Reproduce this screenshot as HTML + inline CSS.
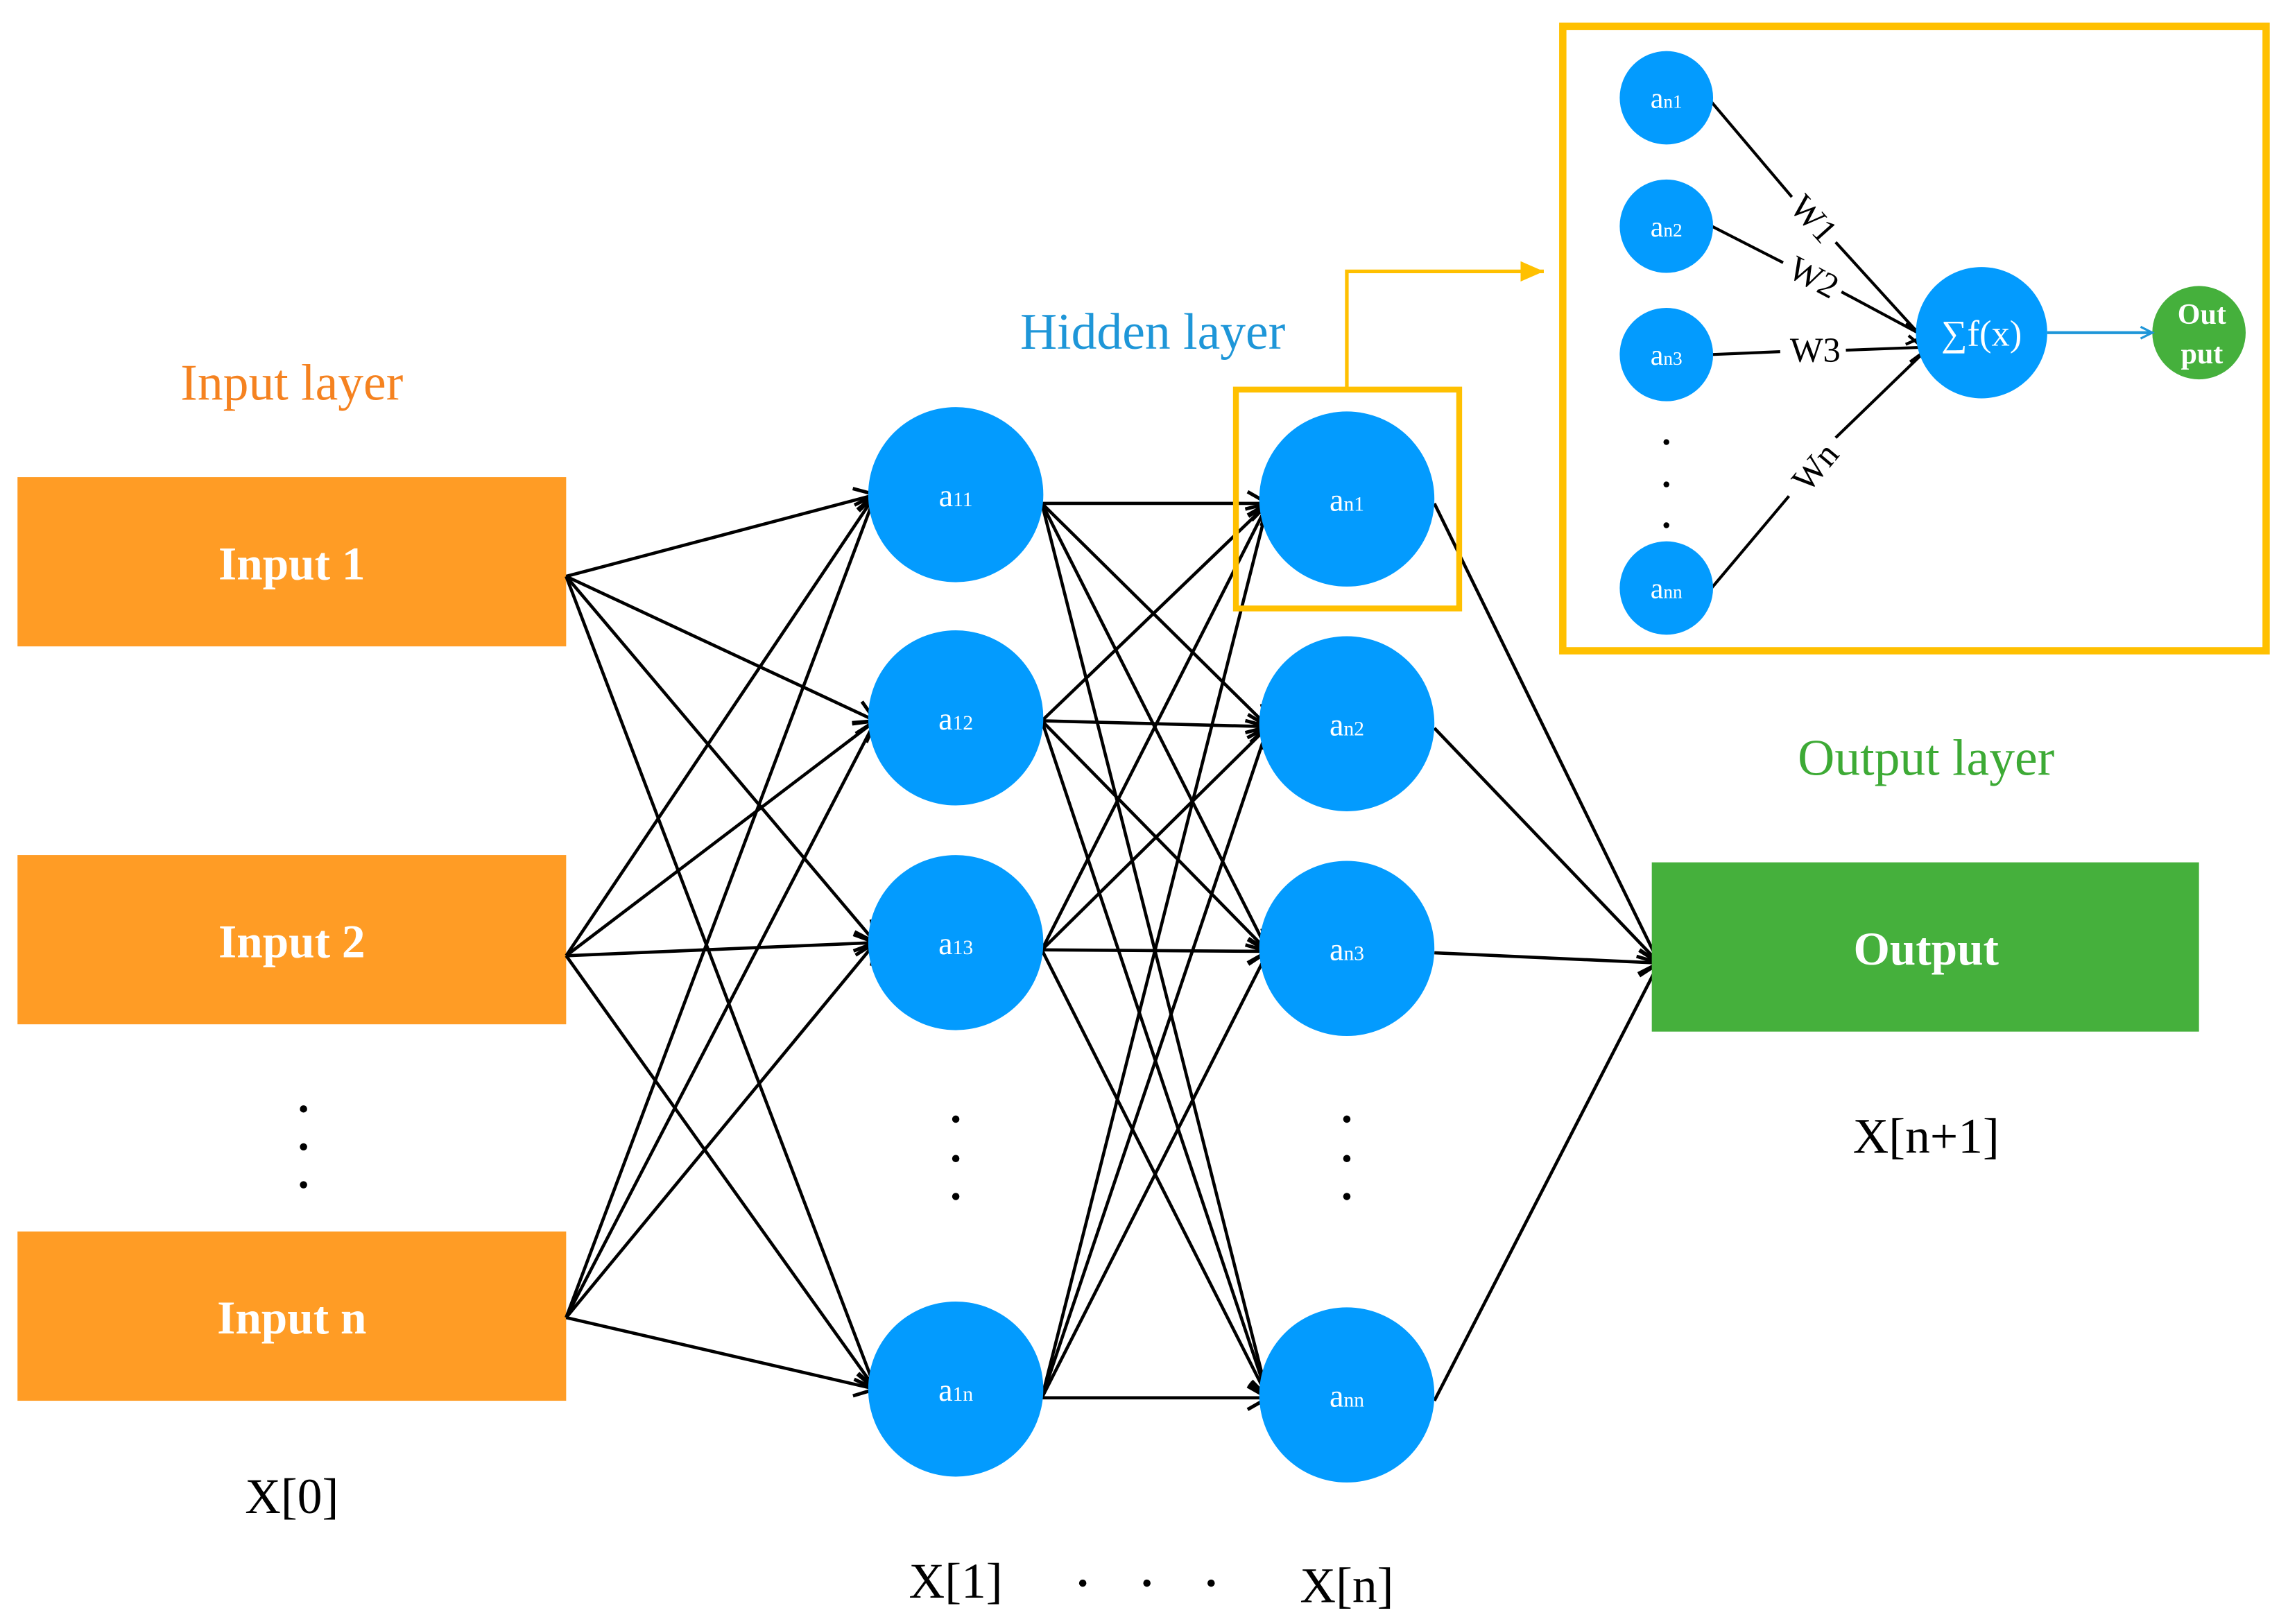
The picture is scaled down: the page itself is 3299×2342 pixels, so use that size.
<!DOCTYPE html>
<html><head><meta charset="utf-8"><style>
html,body{margin:0;padding:0;background:#fff;}
svg{display:block;}
text{font-family:"Liberation Serif",serif;}
</style></head><body>
<svg width="3299" height="2342" viewBox="0 0 1568 1113" preserveAspectRatio="none" xmlns="http://www.w3.org/2000/svg">
<defs>
<marker id="ar" markerUnits="userSpaceOnUse" markerWidth="20" markerHeight="20" refX="15" refY="9" orient="auto">
<path d="M1,1 L15,9 L1,17" fill="none" stroke="#000" stroke-width="2.4"/>
</marker>
<marker id="ab" markerUnits="userSpaceOnUse" markerWidth="12" markerHeight="12" refX="9" refY="5" orient="auto">
<path d="M1,1 L9,5 L1,9" fill="none" stroke="#1E96D8" stroke-width="1.5"/>
</marker>
<marker id="ay" markerUnits="userSpaceOnUse" markerWidth="20" markerHeight="20" refX="16" refY="7" orient="auto">
<path d="M0,0 L16,7 L0,14 Z" fill="#FFC000"/>
</marker>
</defs>

<rect x="12" y="327" width="376" height="116" fill="#FF9C25"/>
<rect x="12" y="586" width="376" height="116" fill="#FF9C25"/>
<rect x="12" y="844" width="376" height="116" fill="#FF9C25"/>
<g fill="#fff" font-weight="bold" font-size="32" text-anchor="middle">
<text x="200" y="397">Input 1</text>
<text x="200" y="656">Input 2</text>
<text x="200" y="914">Input n</text>
</g>
<text x="200" y="274" fill="#F58220" font-size="35" text-anchor="middle">Input layer</text>
<text x="790" y="239" fill="#1E96D8" font-size="35" text-anchor="middle">Hidden layer</text>
<text x="1320" y="531" fill="#3DAA35" font-size="35" text-anchor="middle">Output layer</text>

<g fill="#000">
<circle cx="208" cy="760" r="2.5"/><circle cx="208" cy="786" r="2.5"/><circle cx="208" cy="812" r="2.5"/>
<circle cx="655" cy="767" r="2.5"/><circle cx="655" cy="794" r="2.5"/><circle cx="655" cy="820" r="2.5"/>
<circle cx="923" cy="767" r="2.5"/><circle cx="923" cy="794" r="2.5"/><circle cx="923" cy="820" r="2.5"/>
<circle cx="742" cy="1085" r="2.5"/><circle cx="786" cy="1085" r="2.5"/><circle cx="830" cy="1085" r="2.5"/>
<circle cx="1142" cy="303" r="2"/><circle cx="1142" cy="332" r="2"/><circle cx="1142" cy="360" r="2"/>
</g>

<g font-size="34" text-anchor="middle" fill="#000">
<text x="200" y="1037">X[0]</text>
<text x="655" y="1095">X[1]</text>
<text x="923" y="1098">X[n]</text>
<text x="1320" y="790">X[n+1]</text>
</g>

<g stroke="#000" stroke-width="2.2" fill="none" marker-end="url(#ar)">
<line x1="388" y1="395" x2="600" y2="339"/>
<line x1="388" y1="395" x2="600" y2="494"/>
<line x1="388" y1="395" x2="600" y2="646"/>
<line x1="388" y1="395" x2="600" y2="952"/>
<line x1="388" y1="655" x2="600" y2="339"/>
<line x1="388" y1="655" x2="600" y2="494"/>
<line x1="388" y1="655" x2="600" y2="646"/>
<line x1="388" y1="655" x2="600" y2="952"/>
<line x1="388" y1="903" x2="600" y2="339"/>
<line x1="388" y1="903" x2="600" y2="494"/>
<line x1="388" y1="903" x2="600" y2="646"/>
<line x1="388" y1="903" x2="600" y2="952"/>

<line x1="714" y1="345" x2="869" y2="345"/>
<line x1="714" y1="345" x2="869" y2="498"/>
<line x1="714" y1="345" x2="869" y2="652"/>
<line x1="714" y1="345" x2="869" y2="958"/>
<line x1="714" y1="494" x2="869" y2="345"/>
<line x1="714" y1="494" x2="869" y2="498"/>
<line x1="714" y1="494" x2="869" y2="652"/>
<line x1="714" y1="494" x2="869" y2="958"/>
<line x1="714" y1="651" x2="869" y2="345"/>
<line x1="714" y1="651" x2="869" y2="498"/>
<line x1="714" y1="651" x2="869" y2="652"/>
<line x1="714" y1="651" x2="869" y2="958"/>
<line x1="714" y1="958" x2="869" y2="345"/>
<line x1="714" y1="958" x2="869" y2="498"/>
<line x1="714" y1="958" x2="869" y2="652"/>
<line x1="714" y1="958" x2="869" y2="958"/>

<line x1="983" y1="345" x2="1137" y2="660"/>
<line x1="983" y1="499" x2="1137" y2="660"/>
<line x1="983" y1="653" x2="1137" y2="660"/>
<line x1="983" y1="960" x2="1137" y2="660"/>
</g>

<rect x="1132" y="591" width="375" height="116" fill="#45B03C"/>
<text x="1320" y="661" fill="#fff" font-weight="bold" font-size="32" text-anchor="middle">Output</text>

<g fill="#039BFE">
<circle cx="655" cy="339" r="60"/><circle cx="655" cy="492" r="60"/><circle cx="655" cy="646" r="60"/><circle cx="655" cy="952" r="60"/>
<circle cx="923" cy="342" r="60"/><circle cx="923" cy="496" r="60"/><circle cx="923" cy="650" r="60"/><circle cx="923" cy="956" r="60"/>
</g>
<g fill="#fff" font-size="22" text-anchor="middle">
<text x="655" y="347">a<tspan font-size="14">11</tspan></text>
<text x="655" y="500">a<tspan font-size="14">12</tspan></text>
<text x="655" y="654">a<tspan font-size="14">13</tspan></text>
<text x="655" y="960">a<tspan font-size="14">1n</tspan></text>
<text x="923" y="350">a<tspan font-size="14">n1</tspan></text>
<text x="923" y="504">a<tspan font-size="14">n2</tspan></text>
<text x="923" y="658">a<tspan font-size="14">n3</tspan></text>
<text x="923" y="964">a<tspan font-size="14">nn</tspan></text>
</g>

<rect x="847" y="267" width="153" height="150" fill="none" stroke="#FFC000" stroke-width="4"/>
<polyline points="923,267 923,186 1058,186" fill="none" stroke="#FFC000" stroke-width="2.5" marker-end="url(#ay)"/>
<rect x="1071" y="18" width="482" height="428" fill="none" stroke="#FFC000" stroke-width="5"/>

<g stroke="#000" stroke-width="2" fill="none">
<line x1="1173" y1="70" x2="1228" y2="135"/><line x1="1258" y1="166" x2="1318" y2="232"/>
<line x1="1173" y1="155" x2="1222" y2="180"/><line x1="1262" y1="200" x2="1318" y2="230"/>
<line x1="1173" y1="243" x2="1220" y2="241"/><line x1="1265" y1="240" x2="1318" y2="238"/>
<line x1="1173" y1="403" x2="1226" y2="340"/><line x1="1258" y1="300" x2="1320" y2="240"/>
</g>
<g fill="#000" font-size="24" text-anchor="middle">
<text transform="translate(1243,150) rotate(48)" y="8">W1</text>
<text transform="translate(1243,190) rotate(28)" y="8">W2</text>
<text transform="translate(1244,240)" y="8">W3</text>
<text transform="translate(1244,320) rotate(-50)" y="8">Wn</text>
</g>
<g stroke="#000" stroke-width="2" fill="none">
<path d="M1306,222 L1320,230 L1306,236"/>
<path d="M1308,230 L1320,240 L1309,248"/>
</g>
<g fill="#039BFE">
<circle cx="1142" cy="67" r="32"/><circle cx="1142" cy="155" r="32"/><circle cx="1142" cy="243" r="32"/><circle cx="1142" cy="403" r="32"/>
<circle cx="1358" cy="228" r="45"/>
</g>
<circle cx="1507" cy="228" r="32" fill="#45B03C"/>
<line x1="1403" y1="228" x2="1475" y2="228" stroke="#1E96D8" stroke-width="2" marker-end="url(#ab)"/>
<g fill="#fff" font-size="20" text-anchor="middle">
<text x="1142" y="74">a<tspan font-size="13">n1</tspan></text>
<text x="1142" y="162">a<tspan font-size="13">n2</tspan></text>
<text x="1142" y="250">a<tspan font-size="13">n3</tspan></text>
<text x="1142" y="410">a<tspan font-size="13">nn</tspan></text>
<text x="1358" y="237" font-size="25">∑f(x)</text>
<text x="1509" y="222" font-size="20" font-weight="bold">Out</text>
<text x="1509" y="249" font-size="20" font-weight="bold">put</text>
</g>
</svg>
</body></html>
